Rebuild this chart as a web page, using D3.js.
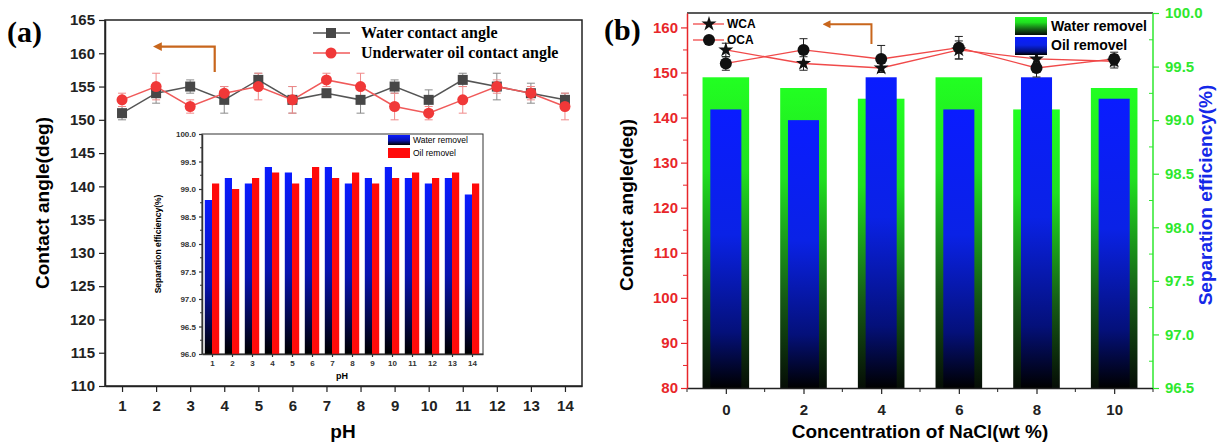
<!DOCTYPE html>
<html>
<head>
<meta charset="utf-8">
<script src="https://cdn.jsdelivr.net/npm/d3@7"></script>
<style>
body{margin:0;background:#fff;}
svg{display:block;font-family:"Liberation Sans",Arial,sans-serif;font-weight:bold;}
.serif{font-family:"Liberation Serif","Times New Roman",serif;font-weight:bold;}
</style>
</head>
<body>
<svg id="chart" width="1220" height="442"></svg>
<script>
// panel (a): contact angles vs pH
var phValues=[1,2,3,4,5,6,7,8,9,10,11,12,13,14]
var wcaPH=[151,154,155,153,156,153,154,153,155,153,156,155,154,153]
var wcaPHErr=[1,1.5,1,2,1,2,0.5,2,1,1.5,1,2,1.5,1]
var ocaPH=[153,155,152,154,155,153,156,155,152,151,153,155,154,152]
var ocaPHErr=[1,2,1,1,2,2,1,2,2,1,2,1,1,2]
// inset: separation efficiency vs pH
var waterRemovalPH=[98.8,99.2,99.1,99.4,99.3,99.2,99.4,99.1,99.2,99.4,99.2,99.1,99.2,98.9]
var oilRemovalPH=[99.1,99.0,99.2,99.3,99.1,99.4,99.2,99.3,99.1,99.2,99.3,99.2,99.3,99.1]
// panel (b): NaCl concentration
var naclValues=[0,2,4,6,8,10]
var wcaNaCl=[155,152,151,155,153,152.5]
var wcaNaClErr=[1.5,1.5,1,2,1.5,1.5]
var ocaNaCl=[152,155,153,155.5,151,153]
var ocaNaClErr=[1.5,2.5,3,2.5,2,1.5]
var waterRemovalNaCl=[99.4,99.3,99.2,99.4,99.1,99.3]
var oilRemovalNaCl=[99.1,99.0,99.4,99.1,99.4,99.2]

var svg=d3.select("#chart")
var defs=svg.append("defs")

var addGradient=function(id,stops)
    {
        var g=defs.append("linearGradient").attr("id",id)
            .attr("x1",0).attr("y1",0).attr("x2",0).attr("y2",1)
        stops.forEach(function(s)
            {
                g.append("stop").attr("offset",s[0]).attr("stop-color",s[1])
            })
    }
addGradient("gBlue",[["0%","#0a1cff"],["45%","#0a22e6"],["80%","#04107a"],["100%","#000000"]])
addGradient("gGreen",[["0%","#22ff22"],["30%","#20e020"],["70%","#155a15"],["100%","#060d06"]])
addGradient("gBlueSmall",[["0%","#0a1cff"],["55%","#0814b0"],["100%","#000000"]])

defs.append("marker").attr("id","arrow")
    .attr("viewBox","0 0 10 10").attr("refX",2).attr("refY",5)
    .attr("markerWidth",4).attr("markerHeight",4).attr("orient","auto")
    .append("path").attr("d","M0,0L10,5L0,10z").attr("fill","#c8661c")

var errorBars=function(g,xs,ys,errs,xScale,yScale,color,cap)
    {
        xs.forEach(function(x,i)
            {
                var cx=xScale(x),y1=yScale(ys[i]+errs[i]),y2=yScale(ys[i]-errs[i])
                g.append("line").attr("x1",cx).attr("x2",cx).attr("y1",y1).attr("y2",y2)
                    .attr("stroke",color).attr("stroke-width",1)
                g.append("line").attr("x1",cx-cap).attr("x2",cx+cap).attr("y1",y1).attr("y2",y1)
                    .attr("stroke",color).attr("stroke-width",1)
                g.append("line").attr("x1",cx-cap).attr("x2",cx+cap).attr("y1",y2).attr("y2",y2)
                    .attr("stroke",color).attr("stroke-width",1)
            })
    }

var styleAxis=function(g,color,size)
    {
        g.selectAll("path").attr("stroke",color).attr("stroke-width",1.5)
        g.selectAll("line").attr("stroke",color).attr("stroke-width",1.2)
        g.selectAll("text").attr("fill",color).attr("font-size",size).attr("font-weight","bold")
            .attr("font-family","'Liberation Sans',Arial,sans-serif")
    }

//----- panel (a)
var drawPanelA=function()
    {
        var xA=d3.scaleLinear().domain([0.5,14.5]).range([105,582])
        var yA=d3.scaleLinear().domain([110,165]).range([386,20])

        var g=svg.append("g")
        g.append("rect").attr("x",105).attr("y",20).attr("width",582-105).attr("height",366)
            .attr("fill","none").attr("stroke","#222").attr("stroke-width",1.5)

        var xAxis=g.append("g").attr("transform","translate(0,386)")
            .call(d3.axisBottom(xA).tickValues(phValues).tickSize(6).tickSizeOuter(0).tickPadding(8))
        styleAxis(xAxis,"#222",15)
        var yAxis=g.append("g").attr("transform","translate(105,0)")
            .call(d3.axisLeft(yA).ticks(11).tickSize(6).tickSizeOuter(0).tickPadding(4))
        styleAxis(yAxis,"#222",15)

        g.append("text").text("Contact angle(deg)").attr("font-size",19)
            .attr("text-anchor","middle")
            .attr("transform","translate(49,203) rotate(-90)")
        g.append("text").text("pH").attr("font-size",19).attr("text-anchor","middle")
            .attr("x",343).attr("y",438)
        g.append("text").text("(a)").attr("class","serif").attr("font-size",30)
            .attr("x",7).attr("y",42)

        // orange arrow
        g.append("path")
            .attr("d","M"+xA(3.72)+","+yA(157.2)+"V"+yA(161)+"H"+(xA(1.94)+6))
            .attr("fill","none").attr("stroke","#c8661c").attr("stroke-width",2.2)
            .attr("marker-end","url(#arrow)")

        // lines
        var lineW=d3.line().x(function(d,i){return xA(phValues[i])}).y(function(d){return yA(d)})
        errorBars(g,phValues,wcaPH,wcaPHErr,xA,yA,"#8a8a8a",4)
        errorBars(g,phValues,ocaPH,ocaPHErr,xA,yA,"#f08a8a",4)
        g.append("path").datum(wcaPH).attr("d",lineW).attr("fill","none")
            .attr("stroke","#555").attr("stroke-width",1.5)
        g.append("path").datum(ocaPH).attr("d",lineW).attr("fill","none")
            .attr("stroke","#f05a5a").attr("stroke-width",1.5)
        g.selectAll("rect.wca").data(wcaPH).enter().append("rect").attr("class","wca")
            .attr("x",function(d,i){return xA(phValues[i])-5})
            .attr("y",function(d){return yA(d)-5})
            .attr("width",10).attr("height",10).attr("fill","#474747")
        g.selectAll("circle.oca").data(ocaPH).enter().append("circle").attr("class","oca")
            .attr("cx",function(d,i){return xA(phValues[i])})
            .attr("cy",function(d){return yA(d)})
            .attr("r",5.5).attr("fill","#f03838")

        // legend
        var leg=g.append("g")
        leg.append("line").attr("x1",313).attr("x2",350).attr("y1",33).attr("y2",33)
            .attr("stroke","#555").attr("stroke-width",1.5)
        leg.append("rect").attr("x",326).attr("y",28).attr("width",10).attr("height",10).attr("fill","#474747")
        leg.append("text").text("Water contact angle").attr("class","serif").attr("font-size",16)
            .attr("x",361).attr("y",38)
        leg.append("line").attr("x1",313).attr("x2",350).attr("y1",53).attr("y2",53)
            .attr("stroke","#f05a5a").attr("stroke-width",1.5)
        leg.append("circle").attr("cx",331).attr("cy",53).attr("r",5.5).attr("fill","#f03838")
        leg.append("text").text("Underwater oil contact angle").attr("class","serif").attr("font-size",16)
            .attr("x",361).attr("y",58)

        drawInset()
    }

//----- inset of (a)
var drawInset=function()
    {
        var xI=d3.scaleLinear().domain([0.5,14.55]).range([202,483])
        var yI=d3.scaleLinear().domain([96,100]).range([354,134])
        var g=svg.append("g")
        g.append("rect").attr("x",202).attr("y",134).attr("width",281).attr("height",220)
            .attr("fill","#fff").attr("stroke","#333").attr("stroke-width",1)

        var bw=xI(0.36)-xI(0)
        g.selectAll("rect.wr").data(waterRemovalPH).enter().append("rect").attr("class","wr")
            .attr("x",function(d,i){return xI(phValues[i])-bw})
            .attr("y",function(d){return yI(d)})
            .attr("width",bw).attr("height",function(d){return yI(96)-yI(d)})
            .attr("fill","url(#gBlueSmall)")
        g.selectAll("rect.or").data(oilRemovalPH).enter().append("rect").attr("class","or")
            .attr("x",function(d,i){return xI(phValues[i])})
            .attr("y",function(d){return yI(d)})
            .attr("width",bw).attr("height",function(d){return yI(96)-yI(d)})
            .attr("fill","#ff0a0a")

        var xAxis=g.append("g").attr("transform","translate(0,354)")
            .call(d3.axisBottom(xI).tickValues(phValues).tickSize(3).tickSizeOuter(0).tickPadding(3))
        styleAxis(xAxis,"#333",8)
        var yAxis=g.append("g").attr("transform","translate(202,0)")
            .call(d3.axisLeft(yI).tickValues(d3.range(96,100.01,0.5)).tickFormat(d3.format(".1f"))
                .tickSize(3).tickSizeOuter(0).tickPadding(3))
        styleAxis(yAxis,"#333",8)
        yAxis.selectAll(".minor").data(d3.range(96.25,100,0.5)).enter().append("line")
            .attr("x1",0).attr("x2",-2).attr("y1",function(d){return yI(d)}).attr("y2",function(d){return yI(d)})
            .attr("stroke","#333")

        g.append("text").text("pH").attr("font-size",9).attr("text-anchor","middle")
            .attr("x",xI(7.5)).attr("y",379)
        g.append("text").text("Separation efficiency(%)").attr("font-size",8.5)
            .attr("text-anchor","middle")
            .attr("transform","translate(161,244) rotate(-90)")

        g.append("rect").attr("x",388).attr("y",135).attr("width",22).attr("height",10).attr("fill","url(#gBlueSmall)")
        g.append("text").text("Water removel").attr("font-size",8.5).attr("font-weight","normal")
            .attr("x",413).attr("y",143)
        g.append("rect").attr("x",388).attr("y",148).attr("width",22).attr("height",10).attr("fill","#ff0a0a")
        g.append("text").text("Oil removel").attr("font-size",8.5).attr("font-weight","normal")
            .attr("x",413).attr("y",156)
    }

//----- panel (b)
var drawPanelB=function()
    {
        var xB=d3.scaleLinear().domain([-1,11]).range([687,1153])
        var yL=d3.scaleLinear().domain([80,163.2]).range([388,13])
        var yR=d3.scaleLinear().domain([96.5,100]).range([388,13])
        var g=svg.append("g")

        // bars
        var gw=xB(1.2)-xB(0),bw=xB(0.8)-xB(0)
        g.selectAll("rect.wr").data(waterRemovalNaCl).enter().append("rect").attr("class","wr")
            .attr("x",function(d,i){return xB(naclValues[i])-gw/2})
            .attr("y",function(d){return yR(d)})
            .attr("width",gw).attr("height",function(d){return yR(96.5)-yR(d)})
            .attr("fill","url(#gGreen)")
        g.selectAll("rect.or").data(oilRemovalNaCl).enter().append("rect").attr("class","or")
            .attr("x",function(d,i){return xB(naclValues[i])-bw/2})
            .attr("y",function(d){return yR(d)})
            .attr("width",bw).attr("height",function(d){return yR(96.5)-yR(d)})
            .attr("fill","url(#gBlue)")

        // top border
        g.append("line").attr("x1",687).attr("x2",1153).attr("y1",13).attr("y2",13)
            .attr("stroke","#222").attr("stroke-width",1.5)

        var xAxis=g.append("g").attr("transform","translate(0,388)")
            .call(d3.axisBottom(xB).tickValues(naclValues).tickSize(6).tickSizeOuter(0).tickPadding(10))
        styleAxis(xAxis,"#222",15)
        xAxis.selectAll(".minor").data([-1,1,3,5,7,9,11]).enter().append("line")
            .attr("x1",function(d){return xB(d)}).attr("x2",function(d){return xB(d)})
            .attr("y1",0).attr("y2",4).attr("stroke","#222")

        var yAxisL=g.append("g").attr("transform","translate(687,0)")
            .call(d3.axisLeft(yL).tickValues(d3.range(80,161,10)).tickSize(6).tickSizeOuter(0).tickPadding(3))
        styleAxis(yAxisL,"#e8262a",15)
        yAxisL.selectAll(".minor").data(d3.range(85,161,10)).enter().append("line")
            .attr("x1",0).attr("x2",-4).attr("y1",function(d){return yL(d)}).attr("y2",function(d){return yL(d)})
            .attr("stroke","#e8262a")

        var yAxisR=g.append("g").attr("transform","translate(1153,0)")
            .call(d3.axisRight(yR).tickValues(d3.range(96.5,100.01,0.5)).tickFormat(d3.format(".1f"))
                .tickSize(6).tickSizeOuter(0).tickPadding(6))
        styleAxis(yAxisR,"#2ee82e",15)
        yAxisR.select("path").attr("d","M0,"+yR(96.5)+"V"+yR(100))
        yAxisR.selectAll(".minor").data(d3.range(96.75,100,0.5)).enter().append("line")
            .attr("x1",0).attr("x2",-4).attr("y1",function(d){return yR(d)}).attr("y2",function(d){return yR(d)})
            .attr("stroke","#2ee82e")

        g.append("text").text("Contact angle(deg)").attr("font-size",19).attr("text-anchor","middle")
            .attr("transform","translate(633,205) rotate(-90)")
        g.append("text").text("Separation efficiency(%)").attr("font-size",19).attr("text-anchor","middle")
            .attr("fill","#1428e8")
            .attr("transform","translate(1212,195) rotate(-90)")
        g.append("text").text("Concentration of NaCl(wt %)").attr("font-size",19).attr("text-anchor","middle")
            .attr("x",xB(5)).attr("y",438)
        g.append("text").text("(b)").attr("class","serif").attr("font-size",30)
            .attr("x",604).attr("y",40)

        // arrow
        g.append("path")
            .attr("d","M"+xB(3.75)+","+yL(156.3)+"V"+yL(160.7)+"H"+(xB(2.5)+6))
            .attr("fill","none").attr("stroke","#c8661c").attr("stroke-width",2)
            .attr("marker-end","url(#arrow)")

        // contact angle lines
        var line=d3.line().x(function(d,i){return xB(naclValues[i])}).y(function(d){return yL(d)})
        g.append("path").datum(wcaNaCl).attr("d",line).attr("fill","none")
            .attr("stroke","#f04a4a").attr("stroke-width",1.3)
        g.append("path").datum(ocaNaCl).attr("d",line).attr("fill","none")
            .attr("stroke","#f04a4a").attr("stroke-width",1.3)
        errorBars(g,naclValues,wcaNaCl,wcaNaClErr,xB,yL,"#222",4)
        errorBars(g,naclValues,ocaNaCl,ocaNaClErr,xB,yL,"#222",4)
        var star=d3.symbol().type(d3.symbolStar).size(70)
        g.selectAll("path.wca").data(wcaNaCl).enter().append("path").attr("class","wca")
            .attr("d",star)
            .attr("transform",function(d,i){return "translate("+xB(naclValues[i])+","+yL(d)+")"})
            .attr("fill","#111")
        g.selectAll("circle.oca").data(ocaNaCl).enter().append("circle").attr("class","oca")
            .attr("cx",function(d,i){return xB(naclValues[i])})
            .attr("cy",function(d){return yL(d)})
            .attr("r",6).attr("fill","#111")

        // legends
        g.append("line").attr("x1",693).attr("x2",724).attr("y1",24).attr("y2",24)
            .attr("stroke","#f04a4a").attr("stroke-width",1.3)
        g.append("path").attr("d",star).attr("transform","translate(709,24)").attr("fill","#111")
        g.append("text").text("WCA").attr("font-size",12).attr("x",727).attr("y",28)
        g.append("line").attr("x1",693).attr("x2",724).attr("y1",40).attr("y2",40)
            .attr("stroke","#f04a4a").attr("stroke-width",1.3)
        g.append("circle").attr("cx",709).attr("cy",40).attr("r",6).attr("fill","#111")
        g.append("text").text("OCA").attr("font-size",12).attr("x",727).attr("y",44)

        g.append("rect").attr("x",1015).attr("y",17).attr("width",32).attr("height",18).attr("fill","url(#gGreen)")
        g.append("text").text("Water removel").attr("font-size",14).attr("x",1051).attr("y",31)
        g.append("rect").attr("x",1015).attr("y",37).attr("width",32).attr("height",18).attr("fill","url(#gBlue)")
        g.append("text").text("Oil removel").attr("font-size",14).attr("x",1051).attr("y",50)
    }

drawPanelA()
drawPanelB()
</script>
</body>
</html>
